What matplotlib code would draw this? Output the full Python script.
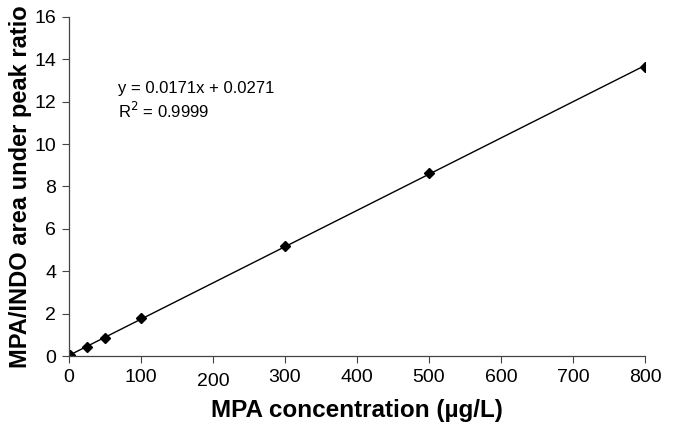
import matplotlib
matplotlib.use("Agg")
import matplotlib.pyplot as plt
import numpy as np

plt.rcParams['font.family'] = ['Liberation Sans', 'DejaVu Sans']

conc = [2, 25, 50, 100, 300, 500, 800]
ratio = [0.06, 0.42, 0.85, 1.80, 5.20, 8.65, 13.65]
slope = 0.0171
intercept = 0.0271
xticks = [0, 100, 200, 300, 400, 500, 600, 700, 800]
yticks = [0, 2, 4, 6, 8, 10, 12, 14, 16]

fig = plt.figure(figsize=(6.74, 4.44), dpi=100)
ax = fig.add_axes([0.102, 0.198, 0.855, 0.764])

xl = np.array([0, 800])
ax.plot(xl, slope * xl + intercept, color='black', lw=1.0)
ax.plot(conc, ratio, linestyle='none', marker='D', ms=5, color='black')

ax.set_xlim(0, 800)
ax.set_ylim(0, 16)
ax.set_xticks(xticks)
ax.set_yticks(yticks)
ax.tick_params(labelsize=14, direction='out', length=5, width=0.8, color='#444444', pad=4)
for s in ['top', 'right']:
    ax.spines[s].set_visible(False)
for s in ['left', 'bottom']:
    ax.spines[s].set_color('#444444')
    ax.spines[s].set_linewidth(0.9)

# "200" label sits slightly lower in the reference
for lab in ax.get_xticklabels():
    if lab.get_text() == '200':
        lab.set_y(-0.012)

ax.set_xlabel('MPA concentration (µg/L)', fontsize=17.5, fontweight='bold', labelpad=7)
ax.set_ylabel('MPA/INDO area under peak ratio', fontsize=17, fontweight='bold', labelpad=2)

ax.text(68, 12.6, 'y = 0.0171x + 0.0271', fontsize=12, ha='left', va='center')
ax.text(68, 11.55, r'R$^2$ = 0.9999', fontsize=12, ha='left', va='center')

fig.savefig('out.png', dpi=100)
